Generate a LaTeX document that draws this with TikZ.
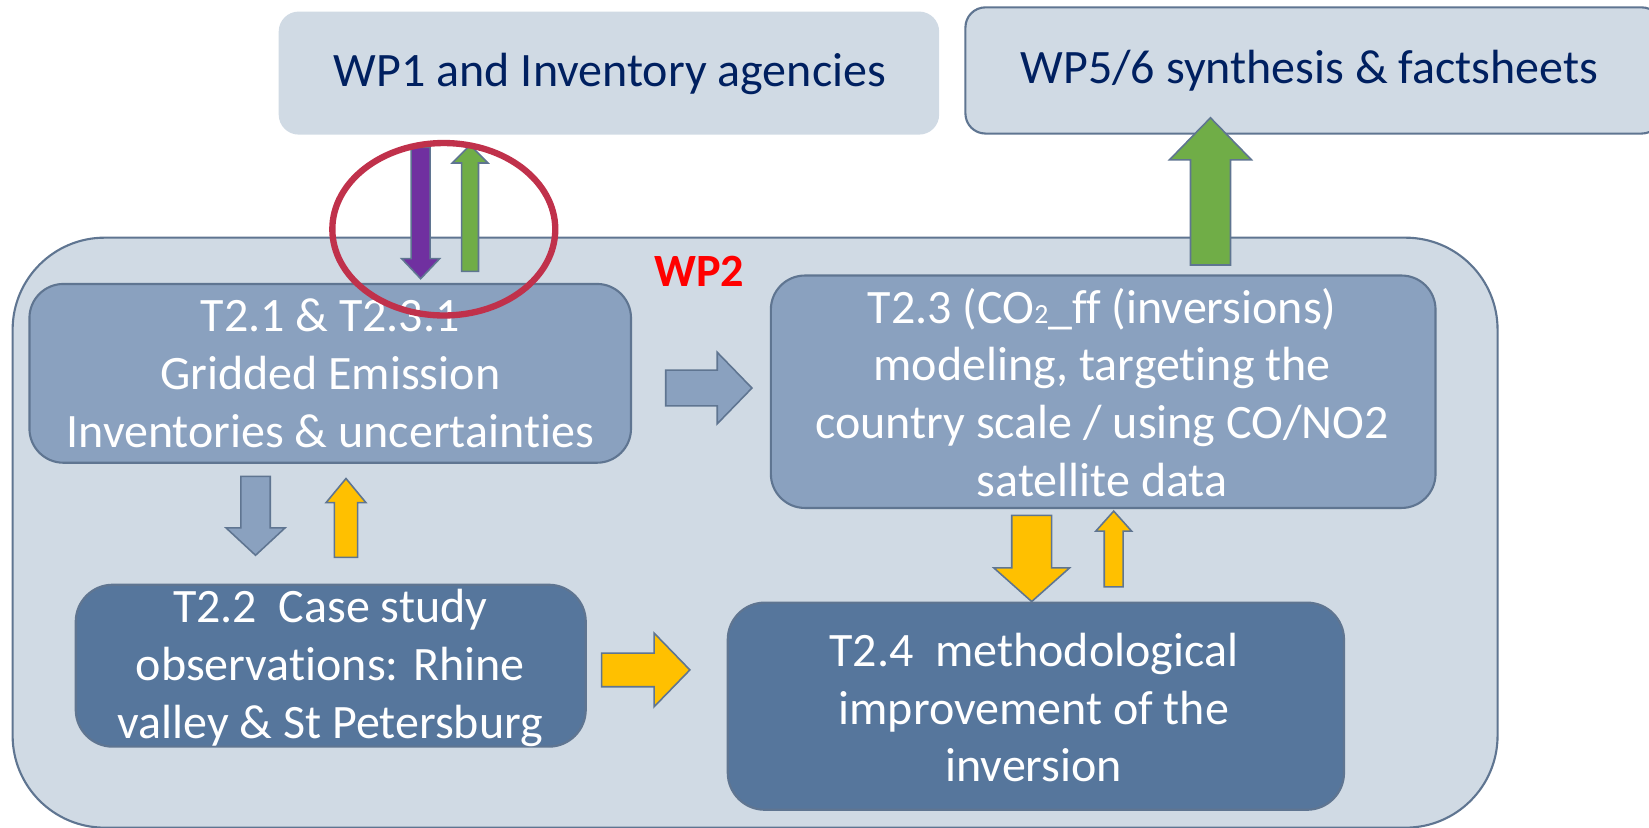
\documentclass[tikz,border=0pt]{standalone}
\usepackage{fontspec}
\setmainfont{Carlito}[RawFeature={-liga}]
\usetikzlibrary{fit}
\definecolor{lightbox}{HTML}{D0DAE4}
\definecolor{midbox}{HTML}{8AA1BF}
\definecolor{darkbox}{HTML}{56769C}
\definecolor{edge}{HTML}{5F7591}
\definecolor{navy}{HTML}{002060}
\definecolor{purplearr}{HTML}{7030A0}
\definecolor{greenarr}{HTML}{70AD47}
\definecolor{yellowarr}{HTML}{FFC000}
\definecolor{ringred}{HTML}{C0314B}
\definecolor{wpred}{HTML}{FF0000}
\tikzset{
  boxbase/.style={inner sep=0pt, outer sep=0pt, line width=1.2pt, draw=edge},
  topbox/.style={boxbase, fill=lightbox, rounded corners=0.4cm},
  wpbox/.style={boxbase, fill=lightbox, rounded corners=1.84cm},
  midtask/.style={boxbase, fill=midbox, rounded corners=0.68cm},
  darktask/.style={boxbase, fill=darkbox, rounded corners=0.74cm},
  txt/.style={align=center, inner sep=0pt, font=\fontsize{27.3}{32.8}\selectfont},
  navytxt/.style={txt, text=navy},
  whitetxt/.style={txt, text=white},
  blockarr/.style={draw=edge, line width=0.9pt, line join=miter},
}
\begin{document}
\begin{tikzpicture}[x=0.021034cm,y=-0.021034cm]
\useasboundingbox (0,0) rectangle (1568,787.3);
% WP2 container
\node[wpbox, fit={(12,226) (1424,787)}] (wp2) {};
% top boxes
\node[topbox, draw=none, fit={(265,11) (893,128)}] (wp1) {};
\node[topbox, fit={(918,7) (1580,127)}] (wp56) {};
\node[navytxt] (wp1txt) at (580,70) {WP1 and Inventory agencies};
\node[navytxt] (wp56txt) at (1245,67) {WP5/6 synthesis \& factsheets};
% WP2 label
\node[inner sep=0pt, text=wpred, font=\fontsize{26.3}{31}\selectfont\bfseries] (wp2lbl) at (665,258) {WP2};
% task boxes
\node[midtask, fit={(28,270) (600,440)}] (t21) {};
\node[midtask, fit={(733,262) (1365,483)}] (t23) {};
\node[darktask, fit={(72,556) (557,710)}] (t22) {};
\node[darktask, fit={(692,573) (1278,770)}] (t24) {};
% task texts
\node[whitetxt] (t21txt) at (314,355) {T2.1 \& T2.3.1\\Gridded Emission\\Inventories \& uncertainties};
\node[whitetxt] (t23txt) at (1048,373) {T2.3 (CO{\fontsize{15.8}{19}\selectfont 2}\_ff (inversions)\\modeling, targeting the\\country scale / using CO/NO2\\satellite data};
\node[whitetxt] (t22txt) at (314,635) {T2.2\ \ Case study\\observations: Rhine\\valley \& St Petersburg};
\node[whitetxt] (t24txt) at (983,673) {T2.4\ \ methodological\\improvement of the\\inversion};
% block arrows
% purple down (WP1 -> T2.1)
\filldraw[blockarr, fill=purplearr] (391,140) -- (409,140) -- (409,246) -- (418,246) -- (400,265) -- (382,246) -- (391,246) -- cycle;
% green thin up (T2.1 -> WP1)
\filldraw[blockarr, fill=greenarr] (439,258) -- (455,258) -- (455,155) -- (464,155) -- (447,138) -- (430,155) -- (439,155) -- cycle;
% big green up (WP2 -> WP5/6)
\filldraw[blockarr, fill=greenarr] (1132,252) -- (1170,252) -- (1170,152) -- (1190,152) -- (1151,112) -- (1112,152) -- (1132,152) -- cycle;
% blue right (T2.1 -> T2.3)
\filldraw[blockarr, fill=midbox] (633,352) -- (682,352) -- (682,335) -- (715,369) -- (682,403) -- (682,386) -- (633,386) -- cycle;
% blue down (T2.1 -> T2.2)
\filldraw[blockarr, fill=midbox] (229,453) -- (257,453) -- (257,502) -- (271,502) -- (243,528) -- (215,502) -- (229,502) -- cycle;
% yellow thin up (T2.2 -> T2.1)
\filldraw[blockarr, fill=yellowarr] (318,530) -- (340,530) -- (340,478) -- (348,478) -- (329,455) -- (310,478) -- (318,478) -- cycle;
% yellow right (T2.2 -> T2.4)
\filldraw[blockarr, fill=yellowarr] (572,621) -- (622,621) -- (622,602) -- (656,637) -- (622,672) -- (622,653) -- (572,653) -- cycle;
% yellow big down (T2.3 -> T2.4)
\filldraw[blockarr, fill=yellowarr] (962,490) -- (1000,490) -- (1000,540) -- (1017,540) -- (981,572) -- (945,540) -- (962,540) -- cycle;
% yellow thin up (T2.4 -> T2.3)
\filldraw[blockarr, fill=yellowarr] (1050,558) -- (1068,558) -- (1068,505) -- (1076,505) -- (1059,486) -- (1042,505) -- (1050,505) -- cycle;
% red ring
\draw[ringred, line width=3.6pt] (422,218) ellipse [x radius=106, y radius=82];
\end{tikzpicture}
\end{document}
